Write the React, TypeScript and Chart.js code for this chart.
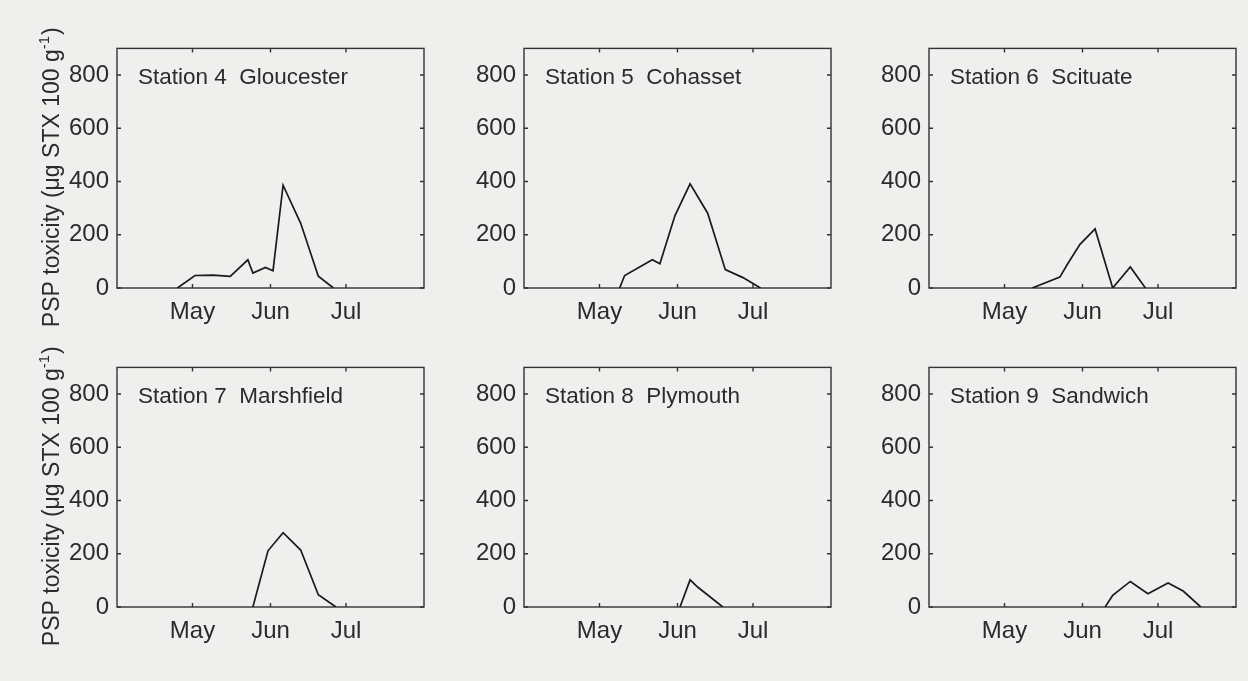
import React, { useEffect, useRef } from 'react';
import { Chart, registerables } from 'chart.js';

Chart.register(...registerables);

// x values are days after 1 April
const monthTickDays = [30, 61, 91];
const monthLabels = ['May', 'Jun', 'Jul'];
const yTickValues = [0, 200, 400, 600, 800];

const stationNames = [
  'Station 4  Gloucester',
  'Station 5  Cohasset',
  'Station 6  Scituate',
  'Station 7  Marshfield',
  'Station 8  Plymouth',
  'Station 9  Sandwich',
];

const gloucesterDays = [24, 31, 38, 45, 52, 54, 59, 62, 66, 73, 80, 86];
const gloucesterPSP = [0, 47, 48, 44, 106, 56, 77, 65, 386, 243, 44, 0];

const cohassetDays = [38, 40, 51, 54, 60, 66, 73, 80, 87, 94];
const cohassetPSP = [0, 47, 106, 91, 272, 391, 281, 69, 39, 0];

const scituateDays = [41, 52, 55, 60, 66, 73, 80, 86];
const scituatePSP = [0, 41, 89, 164, 222, 0, 79, 0];

const marshfieldDays = [54, 60, 66, 73, 80, 87];
const marshfieldPSP = [0, 211, 279, 214, 46, 0];

const plymouthDays = [62, 66, 69, 79];
const plymouthPSP = [0, 102, 75, 0];

const sandwichDays = [70, 73, 80, 87, 95, 101, 108];
const sandwichPSP = [0, 44, 96, 50, 90, 60, 0];

const yTitleMain = 'PSP toxicity (\u03bcg STX 100 g';
const yTitleSup = '-1';
const yTitleEnd = ')';

const FONT = '"Liberation Sans", Arial, Helvetica, sans-serif';
const TEXT = '#2b2b2b';
const LINE = '#333333';

const PLOT_W = 307;
const PLOT_H = 242;
const L = 110;
const T = 20;
const R = 20;
const B = 50;

const framePlugin = {
  id: 'frame',
  beforeDatasetsDraw(chart: any, _args: any, opts: any) {
    const { ctx, chartArea } = chart;
    const { left, right, top, bottom } = chartArea;
    const xs = chart.scales.x;
    const ys = chart.scales.y;
    ctx.save();
    ctx.strokeStyle = LINE;
    ctx.lineWidth = 1.4;
    ctx.strokeRect(left, top, right - left, bottom - top);
    const tl = 4;
    ctx.beginPath();
    yTickValues.forEach((v) => {
      const py = ys.getPixelForValue(v);
      ctx.moveTo(left, py);
      ctx.lineTo(left + tl, py);
      ctx.moveTo(right, py);
      ctx.lineTo(right - tl, py);
    });
    monthTickDays.forEach((v) => {
      const px = xs.getPixelForValue(v);
      ctx.moveTo(px, bottom);
      ctx.lineTo(px, bottom - tl);
      ctx.moveTo(px, top);
      ctx.lineTo(px, top + tl);
    });
    ctx.stroke();

    ctx.fillStyle = TEXT;
    ctx.font = `22.5px ${FONT}`;
    ctx.textAlign = 'left';
    ctx.textBaseline = 'alphabetic';
    ctx.fillText(opts.name, left + 21, top + 36);

    if (opts.yTitle) {
      const cx = left - 58;
      const cy = (top + bottom) / 2 + 9;
      ctx.translate(cx, cy);
      ctx.rotate(-Math.PI / 2);
      ctx.font = `23px ${FONT}`;
      const w1 = ctx.measureText(yTitleMain).width;
      const w3 = ctx.measureText(yTitleEnd).width;
      ctx.font = `15px ${FONT}`;
      const w2 = ctx.measureText(yTitleSup).width;
      let x = -(w1 + w2 + w3 + 1) / 2;
      ctx.font = `23px ${FONT}`;
      ctx.fillText(yTitleMain, x, 0);
      x += w1;
      ctx.font = `15px ${FONT}`;
      ctx.fillText(yTitleSup, x, -10);
      x += w2 + 1;
      ctx.font = `23px ${FONT}`;
      ctx.fillText(yTitleEnd, x, 0);
    }
    ctx.restore();
  },
};

type PanelProps = {
  name: string;
  days: number[];
  values: number[];
  left: number;
  top: number;
  yTitle: boolean;
};

function Panel({ name, days, values, left, top, yTitle }: PanelProps) {
  const ref = useRef<HTMLCanvasElement | null>(null);
  const W = L + PLOT_W + R;
  const H = T + PLOT_H + B;

  useEffect(() => {
    if (!ref.current) return;
    const chart = new Chart(ref.current, {
      type: 'line',
      data: {
        datasets: [
          {
            data: days.map((d, i) => ({ x: d, y: values[i] })),
            borderColor: '#1a1a1a',
            borderWidth: 1.7,
            pointRadius: 0,
            tension: 0,
            fill: false,
          },
        ],
      },
      options: {
        responsive: false,
        animation: false,
        devicePixelRatio: 1,
        layout: { padding: { top: T, right: R, left: 0, bottom: 0 } },
        plugins: {
          legend: { display: false },
          tooltip: { enabled: false },
          title: { display: false },
          frame: { name, yTitle },
        } as any,
        scales: {
          x: {
            type: 'linear',
            min: 0,
            max: 122,
            grid: { display: false, drawTicks: false },
            border: { display: false },
            afterBuildTicks: (s: any) => {
              s.ticks = monthTickDays.map((v) => ({ value: v }));
            },
            afterFit: (s: any) => {
              s.height = B;
            },
            ticks: {
              padding: 10,
              color: TEXT,
              font: { size: 24, family: FONT },
              maxRotation: 0,
              autoSkip: false,
              callback: (_v: any, i: number) => monthLabels[i],
            },
          },
          y: {
            type: 'linear',
            min: 0,
            max: 900,
            grid: { display: false, drawTicks: false },
            border: { display: false },
            afterBuildTicks: (s: any) => {
              s.ticks = yTickValues.map((v) => ({ value: v }));
            },
            afterFit: (s: any) => {
              s.width = L;
            },
            ticks: {
              padding: 8,
              color: TEXT,
              font: { size: 24, family: FONT },
              autoSkip: false,
              callback: (v: any) => String(v),
            },
          },
        },
      } as any,
      plugins: [framePlugin],
    });
    return () => chart.destroy();
  }, [name, days, values, yTitle]);

  return (
    <canvas
      ref={ref}
      width={W}
      height={H}
      style={{ position: 'absolute', left: left - L, top: top - T, width: W, height: H }}
    />
  );
}

const panelDays = [gloucesterDays, cohassetDays, scituateDays, marshfieldDays, plymouthDays, sandwichDays];
const panelValues = [gloucesterPSP, cohassetPSP, scituatePSP, marshfieldPSP, plymouthPSP, sandwichPSP];
const panelLefts = [117, 524, 929];
const panelTops = [46, 365];

export default function App() {
  return (
    <div
      style={{
        position: 'fixed',
        left: 0,
        top: 0,
        width: 1248,
        height: 681,
        background: '#efefed',
        overflow: 'hidden',
      }}
    >
      {stationNames.map((name, i) => (
        <Panel
          key={name}
          name={name}
          days={panelDays[i]}
          values={panelValues[i]}
          left={panelLefts[i % 3]}
          top={panelTops[Math.floor(i / 3)]}
          yTitle={i % 3 === 0}
        />
      ))}
    </div>
  );
}
